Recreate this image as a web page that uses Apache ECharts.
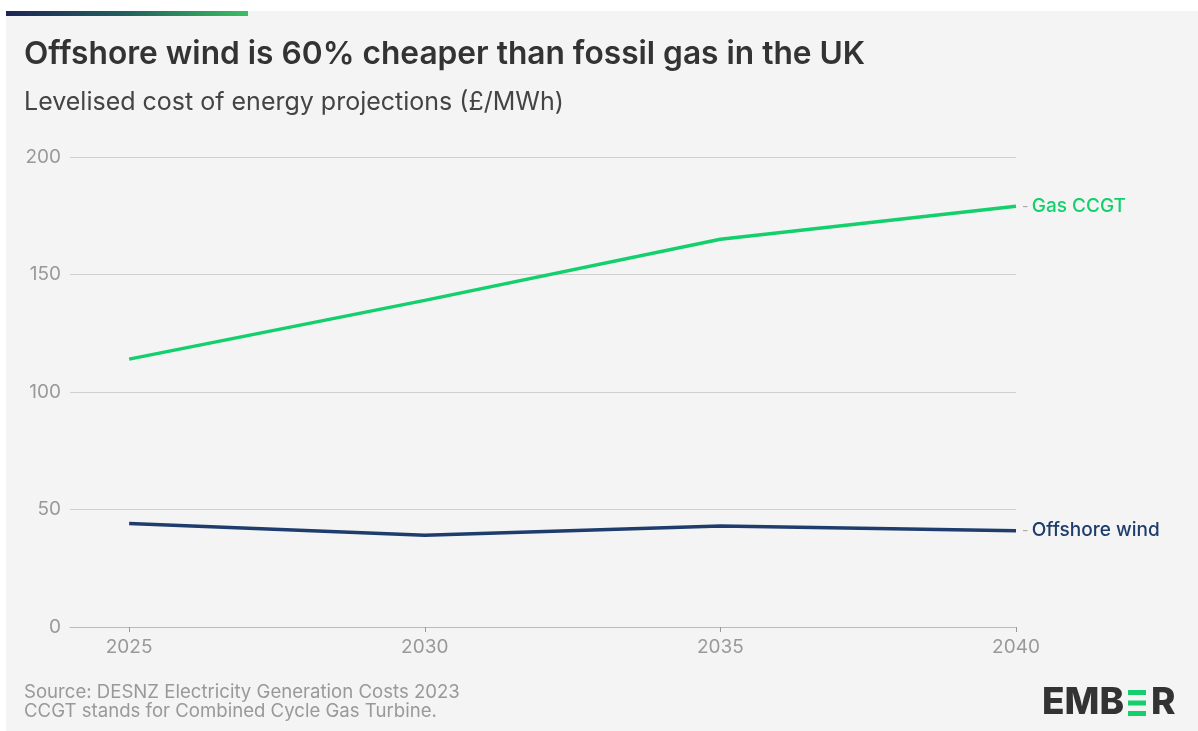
<!DOCTYPE html>
<html>
<head>
<meta charset="utf-8">
<script src="https://cdn.jsdelivr.net/npm/echarts@6/dist/echarts.min.js"></script>
<style>
html,body{margin:0;padding:0;background:#fff;}
#chart{width:1198px;height:731px;}
</style>
</head>
<body>
<div id="chart"></div>
<script>
const years = [2025, 2030, 2035, 2040];
const gasCCGT = [114, 139, 165, 179];
const offshoreWind = [44, 39, 43, 41];
const yTicks = [0, 50, 100, 150, 200];
const seriesNames = ['Gas CCGT', 'Offshore wind'];

const FONT = 'Inter, "Noto Sans", sans-serif';
const GREEN = '#14d06c';
const NAVY = '#1f3d6c';

const chart = echarts.init(document.getElementById('chart'), null, {renderer: 'canvas'});

function mkSeries(name, vals, color) {
  return {
    type: 'line',
    name: name,
    data: years.map((y, i) => [y, vals[i]]),
    symbol: 'none',
    lineStyle: {color: color, width: 3.5},
    itemStyle: {color: color},
    z: 5,
    endLabel: {
      show: true,
      distance: 6,
      formatter: '{d|-} {n|' + name + '}',
      rich: {
        d: {color: '#aaa', fontSize: 14, fontFamily: FONT},
        n: {color: color, fontSize: 19, fontFamily: FONT, fontWeight: 500}
      }
    }
  };
}

chart.setOption({
  backgroundColor: '#fff',
  animation: false,
  grid: {left: 70, right: 182, top: 157, bottom: 104, containLabel: false},
  xAxis: {
    type: 'value',
    min: 2024,
    max: 2040,
    splitLine: {show: false},
    axisLine: {show: true, lineStyle: {color: '#bbb', width: 1}},
    axisTick: {show: true, customValues: years, length: 5, lineStyle: {color: '#999'}},
    axisLabel: {customValues: years, color: '#999', fontSize: 19, fontFamily: FONT, margin: 11,
      formatter: v => String(v)}
  },
  yAxis: {
    type: 'value',
    min: 0,
    max: 200,
    interval: 50,
    axisLine: {show: false},
    axisTick: {show: false},
    splitLine: {lineStyle: {color: '#cfcfcf', width: 1}},
    axisLabel: {color: '#999', fontSize: 19, fontFamily: FONT, margin: 9,
      formatter: v => yTicks.includes(v) ? String(v) : ''}
  },
  graphic: [
    {type: 'rect', shape: {x: 6, y: 11, width: 1192, height: 720}, style: {fill: '#f4f4f4'}, z: -10, silent: true},
    {type: 'rect', shape: {x: 6, y: 11, width: 242, height: 5},
      style: {fill: new echarts.graphic.LinearGradient(0, 0, 1, 0, [
        {offset: 0, color: '#1d2556'}, {offset: 0.5, color: '#22605e'}, {offset: 1, color: '#3bbf62'}])}, z: -5},
    {type: 'text', left: 24, top: 38, style: {text: 'Offshore wind is 60% cheaper than fossil gas in the UK', fill: '#333', font: '600 31.7px ' + FONT}},
    {type: 'text', left: 24, top: 90, style: {text: 'Levelised cost of energy projections (£/MWh)', fill: '#444', font: '400 25px ' + FONT}},
    {type: 'text', left: 24, top: 683, style: {text: 'Source: DESNZ Electricity Generation Costs 2023\nCCGT stands for Combined Cycle Gas Turbine.', fill: '#999', font: '400 18.6px ' + FONT, lineHeight: 19}},
    {type: 'text', left: 1042, top: 684, style: {text: 'EMB', fill: '#333', font: '800 37px ' + FONT}},
    {type: 'text', left: 1151, top: 684, style: {text: 'R', fill: '#333', font: '800 37px ' + FONT}},
    {type: 'rect', shape: {x: 1128, y: 690, width: 18, height: 5}, style: {fill: GREEN}},
    {type: 'rect', shape: {x: 1128, y: 700.5, width: 18, height: 5}, style: {fill: GREEN}},
    {type: 'rect', shape: {x: 1128, y: 711, width: 18, height: 5}, style: {fill: GREEN}}
  ],
  series: [
    mkSeries(seriesNames[0], gasCCGT, GREEN),
    mkSeries(seriesNames[1], offshoreWind, NAVY)
  ]
});
</script>
</body>
</html>
